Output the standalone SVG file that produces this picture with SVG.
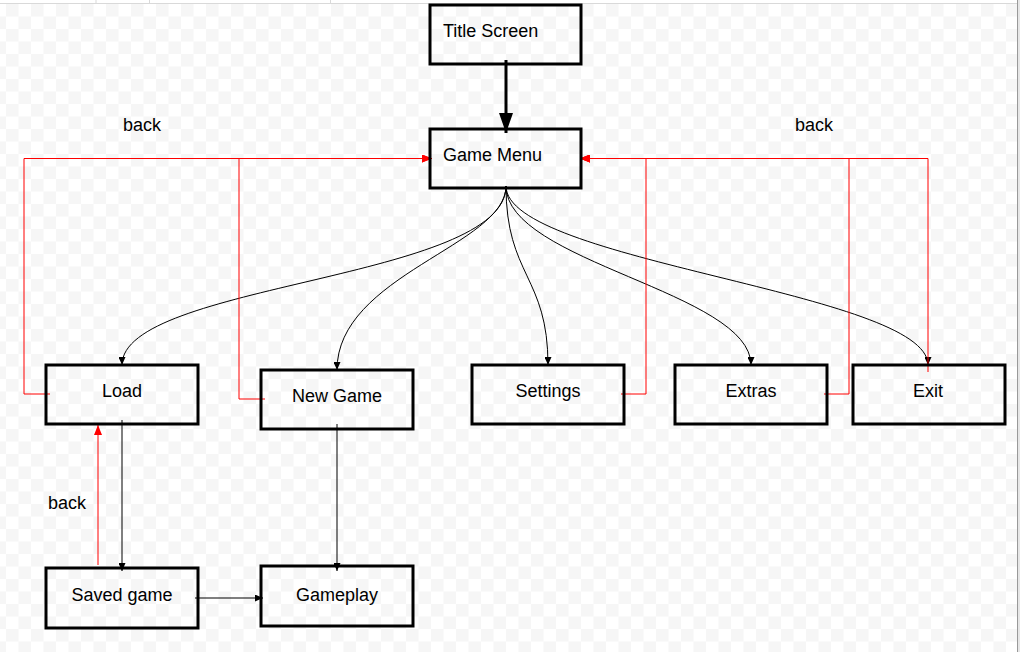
<svg xmlns="http://www.w3.org/2000/svg" width="1020" height="652" viewBox="0 0 1020 652">
<style>
.box{fill:none;stroke:#000;stroke-width:3}
.lbl{font-family:"Liberation Sans",Arial,sans-serif;font-size:18px;fill:#000}
.mid{text-anchor:middle}
.blk{fill:none;stroke:#000;stroke-width:1}
.red{fill:none;stroke:#ff0000;stroke-width:1}
</style>
<defs>
<pattern id="chk" patternUnits="userSpaceOnUse" x="6" y="4" width="25" height="25">
<rect width="25" height="25" fill="#ffffff"/>
<rect width="12.5" height="12.5" fill="#f6f6f6"/>
<rect x="12.5" y="12.5" width="12.5" height="12.5" fill="#f6f6f6"/>
</pattern>
<marker id="aBig" markerUnits="userSpaceOnUse" markerWidth="20" markerHeight="14" refX="20" refY="7" orient="auto">
<path d="M0,0 L20,7 L0,14 z" fill="#000"/>
</marker>
<marker id="aBlk" markerUnits="userSpaceOnUse" markerWidth="8" markerHeight="7" refX="8" refY="3.5" orient="auto">
<path d="M0,0 L8,3.5 L0,7 z" fill="#000"/>
</marker>
<marker id="aRed" markerUnits="userSpaceOnUse" markerWidth="10" markerHeight="8" refX="10" refY="4" orient="auto">
<path d="M0,0 L10,4 L0,8 z" fill="#ff0000"/>
</marker>
</defs>

<g id="background">
<rect x="0" y="0" width="1020" height="652" fill="#ffffff"/>
<rect x="0" y="4" width="1017" height="648" fill="url(#chk)"/>
<line x1="0" y1="3.5" x2="1017" y2="3.5" stroke="#d9d9d9" stroke-width="1"/>
<line x1="96" y1="0" x2="96" y2="3" stroke="#d9d9d9" stroke-width="1"/>
<line x1="149.5" y1="0" x2="149.5" y2="3" stroke="#d9d9d9" stroke-width="1"/>
<line x1="330.5" y1="0" x2="330.5" y2="3" stroke="#d9d9d9" stroke-width="1"/>
<rect x="1018" y="0" width="2" height="652" fill="#e6e6e6"/>
<line x1="1017.5" y1="0" x2="1017.5" y2="652" stroke="#999999" stroke-width="1"/>
</g>

<g id="connectors">
<line x1="506" y1="60" x2="506" y2="133" stroke="#000" stroke-width="3" marker-end="url(#aBig)"/>
<path class="blk" d="M506,186 C506,280 122,283 122,365" marker-end="url(#aBlk)"/>
<path class="blk" d="M506,186 C506,245 337,275 337,370" marker-end="url(#aBlk)"/>
<path class="blk" d="M506,186 C506,276 548,276 548,365" marker-end="url(#aBlk)"/>
<path class="blk" d="M506,186 C506,262 751,292 751,365" marker-end="url(#aBlk)"/>
<path class="blk" d="M506,186 C506,262 928,292 928,365" marker-end="url(#aBlk)"/>
<path class="blk" d="M122,420 V571" marker-end="url(#aBlk)"/>
<path class="blk" d="M337,424 V571" marker-end="url(#aBlk)"/>
<path class="blk" d="M195,598 H263" marker-end="url(#aBlk)"/>
<path class="red" d="M50,394 H24 V158.5 H432" marker-end="url(#aRed)"/>
<path class="red" d="M265,399 H239 V158.5 H432" marker-end="url(#aRed)"/>
<path class="red" d="M621,394 H646 V158.5 H580" marker-end="url(#aRed)"/>
<path class="red" d="M824,394 H849 V158.5 H580" marker-end="url(#aRed)"/>
<path class="red" d="M928,372 V158.5 H580" marker-end="url(#aRed)"/>
<path class="red" d="M98,565 V425" marker-end="url(#aRed)"/>
</g>

<g id="labels">
<text class="lbl" x="123" y="131">back</text>
<text class="lbl" x="795" y="131">back</text>
<text class="lbl" x="48" y="509">back</text>
</g>

<g id="title-screen"><rect class="box" x="430" y="5" width="151" height="59"/><text class="lbl" x="443" y="37">Title Screen</text></g>
<g id="game-menu"><rect class="box" x="430" y="129" width="151" height="59"/><text class="lbl" x="443" y="161">Game Menu</text></g>
<g id="load"><rect class="box" x="46" y="365" width="152" height="59"/><text class="lbl mid" x="122" y="397">Load</text></g>
<g id="new-game"><rect class="box" x="261" y="370" width="152" height="59"/><text class="lbl mid" x="337" y="402">New Game</text></g>
<g id="settings"><rect class="box" x="472" y="365" width="152" height="59"/><text class="lbl mid" x="548" y="397">Settings</text></g>
<g id="extras"><rect class="box" x="675" y="365" width="152" height="59"/><text class="lbl mid" x="751" y="397">Extras</text></g>
<g id="exit"><rect class="box" x="853" y="365" width="152" height="59"/><text class="lbl mid" x="928" y="397">Exit</text></g>
<g id="saved-game"><rect class="box" x="46" y="568" width="152" height="60"/><text class="lbl mid" x="122" y="601">Saved game</text></g>
<g id="gameplay"><rect class="box" x="261" y="566" width="152" height="60"/><text class="lbl mid" x="337" y="601">Gameplay</text></g>
</svg>
